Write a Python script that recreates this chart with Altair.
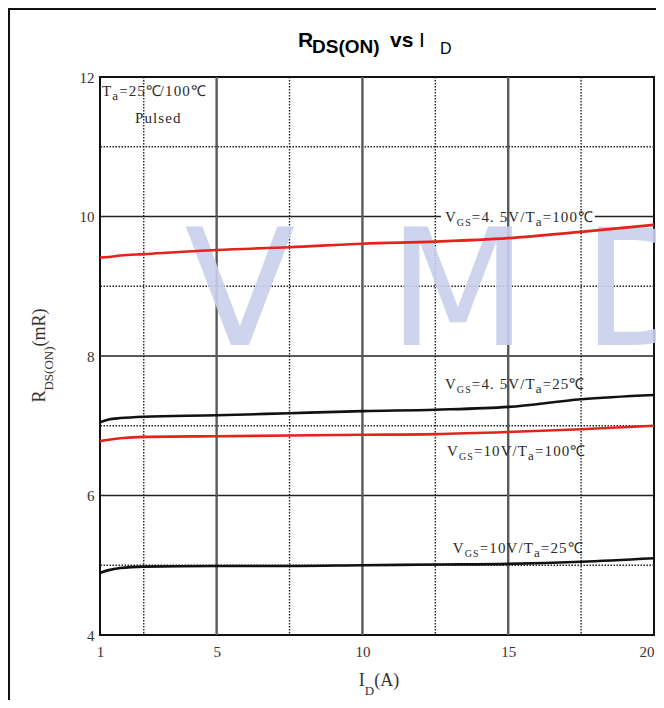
import altair as alt
import pandas as pd

# ---------------- data ----------------
id_a = [1, 1.3, 1.7, 2.5, 5, 7.5, 10, 12.5, 15, 17.5, 20]
r_45v_100c = [9.41, 9.42, 9.44, 9.46, 9.52, 9.56, 9.61, 9.64, 9.69, 9.78, 9.88]
r_45v_25c = [7.05, 7.09, 7.11, 7.13, 7.15, 7.18, 7.21, 7.23, 7.27, 7.38, 7.44]
r_10v_100c = [6.78, 6.80, 6.82, 6.84, 6.85, 6.86, 6.87, 6.88, 6.91, 6.95, 7.00]
r_10v_25c = [4.89, 4.93, 4.96, 4.98, 4.99, 4.99, 5.00, 5.01, 5.02, 5.05, 5.10]

series_names = ["4.5V/100C", "4.5V/25C", "10V/100C", "10V/25C"]
series_values = [r_45v_100c, r_45v_25c, r_10v_100c, r_10v_25c]
series_colors = ["#e3231c", "#111111", "#e3231c", "#111111"]

x_tick_values = [1, 5, 10, 15, 20]
y_tick_values = [4, 6, 8, 10, 12]
x_major = [5, 10, 15]
x_minor = [2.5, 7.5, 12.5, 17.5]
y_major = [6, 8, 10]
y_minor = [5, 7, 9, 11]

# annotation labels: segments (text, kind) ; anchor (x start, y centre) in data units
labels = [
    ([("V", "m"), ("GS", "sub1"), ("=4. 5V/T", "m"), ("a", "sub2"), ("=100℃", "m")], 12.83, 10.0),
    ([("V", "m"), ("GS", "sub1"), ("=4. 5V/T", "m"), ("a", "sub2"), ("=25℃", "m")], 12.83, 7.6),
    ([("V", "m"), ("GS", "sub1"), ("=10V/T", "m"), ("a", "sub2"), ("=100℃", "m")], 12.9, 6.64),
    ([("V", "m"), ("GS", "sub1"), ("=10V/T", "m"), ("a", "sub2"), ("=25℃", "m")], 13.1, 5.25),
    ([("T", "m"), ("a", "sub2"), ("=25℃/100℃", "m")], 1.07, 11.8),
    ([("Pulsed", "m")], 2.2, 11.41),
]

# ---------------- layout helpers ----------------
W, H = 554, 558
X_DOM, Y_DOM = [1, 20], [4, 12]
PXX = W / (X_DOM[1] - X_DOM[0])
PXY = H / (Y_DOM[1] - Y_DOM[0])

TW = {"V": .722, "G": .722, "S": .556, "=": .564, "4": .5, ".": .25, " ": .25, "5": .5,
      "/": .278, "T": .611, "a": .444, "1": .5, "0": .5, "2": .5, "℃": .85, "P": .556,
      "u": .5, "l": .278, "s": .389, "e": .444, "d": .5, "D": .722, "(": .333, ")": .333,
      "O": .722, "N": .722, "m": .778, "R": .667, "A": .722, "I": .333, "\u00a0": .25}
KIND = {"m": (15, 0), "sub1": (10, 4), "sub2": (13, 4)}
TRACK = 1.1  # extra spacing between characters in the annotations


def text_width(s, size):
    return sum(TW.get(c, 0.5) for c in s) * size


rows = []
extents = []
for segs, x0, yc in labels:
    cum = 0.0
    ybase = yc - 5 / PXY
    for txt, kind in segs:
        size, drop = KIND[kind]
        for ch in txt:
            rows.append({"x": x0 + cum / PXX, "y": ybase - drop / PXY, "t": ch, "size": size})
            cum += text_width(ch, size) + TRACK
    extents.append((x0, x0 + cum / PXX, yc))
label_df = pd.DataFrame(rows)

xs = alt.Scale(domain=X_DOM, nice=False, zero=False)
ys = alt.Scale(domain=Y_DOM, nice=False, zero=False)
x_axis = alt.Axis(values=x_tick_values, title=None, grid=False, ticks=False, domain=False,
                  labelFont="Liberation Serif", labelFontSize=15, labelColor="#333",
                  labelPadding=9, labelFlush=False,
                  labelAlign={"condition": {"test": "datum.value == 20", "value": "right"},
                              "value": "center"})
y_axis = alt.Axis(values=y_tick_values, title=None, grid=False, ticks=False, domain=False,
                  labelFont="Liberation Serif", labelFontSize=15, labelColor="#333",
                  labelPadding=6, labelFlush=False)


def X(f="x"):
    return alt.X(f"{f}:Q", scale=xs, axis=x_axis)


def Y(f="y"):
    return alt.Y(f"{f}:Q", scale=ys, axis=y_axis)


# grid
h_major = alt.Chart(pd.DataFrame({"y": y_major})).mark_rule(color="#222", strokeWidth=1.6).encode(y=Y())
h_minor = alt.Chart(pd.DataFrame({"y": y_minor})).mark_rule(
    color="#222", strokeWidth=1.4, strokeDash=[1.5, 1.5]).encode(y=Y())
v_major = alt.Chart(pd.DataFrame({"x": x_major})).mark_rule(color="#5a5a5a", strokeWidth=2.4).encode(x=X())
v_minor = alt.Chart(pd.DataFrame({"x": x_minor})).mark_rule(
    color="#222", strokeWidth=1.4, strokeDash=[1.5, 1.5]).encode(x=X())

# white gap behind the first label on the y=10 grid line
ex0, ex1, eyc = extents[0]
gap_df = pd.DataFrame({"x": [ex0 - 4 / PXX], "x2": [ex1 + 3 / PXX],
                       "y": [eyc - 6 / PXY], "y2": [eyc + 6 / PXY]})
gap = alt.Chart(gap_df).mark_rect(color="white").encode(x=X(), x2="x2", y=Y(), y2="y2")

# watermark
wm_letters = [("V", 140, "center"), ("M", 358, "center"), ("D", 482, "left")]
watermark = alt.layer(*[
    alt.Chart(pd.DataFrame({"t": [ch]})).mark_text(
        font="DejaVu Sans", fontWeight="normal", fontSize=162, color="#c9d0ec",
        align=al, baseline="alphabetic", opacity=0.9
    ).encode(text="t:N", x=alt.value(px), y=alt.value(268))
    for ch, px, al in wm_letters
])

# series lines
line_rows = []
for name, vals in zip(series_names, series_values):
    for xv, yv in zip(id_a, vals):
        line_rows.append({"series": name, "x": xv, "y": yv})
lines = alt.Chart(pd.DataFrame(line_rows)).mark_line(strokeWidth=2.6, interpolate="monotone").encode(
    x=X(), y=Y(),
    color=alt.Color("series:N", scale=alt.Scale(domain=series_names, range=series_colors), legend=None),
    detail="series:N",
)

# annotations
ann = alt.Chart(label_df).mark_text(
    align="left", baseline="alphabetic", font="Liberation Serif", color="#2a2a2a"
).encode(x=X(), y=Y(), text="t:N", size=alt.Size("size:Q", scale=None))


def piece(txt, px, py, size, weight="normal", font="Liberation Serif", angle=0, color="#222"):
    kw = dict(font=font, fontSize=size, fontWeight=weight, color=color,
              align="left", baseline="alphabetic")
    if angle:
        kw["angle"] = angle
    return alt.Chart(pd.DataFrame({"t": [txt]})).mark_text(**kw).encode(
        text="t:N", x=alt.value(px), y=alt.value(py))


# chart title  R_DS(ON) vs I_D
title_parts = [
    piece("R", 198, -30, 21, "bold", "Liberation Sans", color="#000"),
    piece("DS(ON)", 212, -24, 19, "bold", "Liberation Sans", color="#000"),
    piece("vs", 290, -30, 21, "bold", "Liberation Sans", color="#000"),
    piece("I", 319, -30, 21, "normal", "Liberation Sans", color="#000"),
    piece("D", 340, -23, 16, "normal", "Liberation Sans", color="#000"),
]

# y axis title (rotated)  R_DS(ON) (mR)
yt_segs = [("R", 18, 0), ("DS(ON)", 13, 8), ("\u00a0\u00a0(mR)", 18, 0)]
yt_total = sum(text_width(s, sz) for s, sz, _ in yt_segs)
cum = 0.0
ytitle_parts = []
for s, sz, drop in yt_segs:
    ytitle_parts.append(piece(s, -55 + drop, 274 + yt_total / 2 - cum, sz, angle=270, color="#333"))
    cum += text_width(s, sz)

# x axis title  I_D(A)
xt_segs = [("I", 18, 0), ("D", 13, 9), ("(A)", 18, 0)]
xt_total = sum(text_width(s, sz) for s, sz, _ in xt_segs)
cum = 0.0
xtitle_parts = []
for s, sz, drop in xt_segs:
    xtitle_parts.append(piece(s, 279 - xt_total / 2 + cum, 609 + drop, sz, color="#333"))
    cum += text_width(s, sz)

# page frame lines
frame_top = alt.Chart(pd.DataFrame({"a": [0]})).mark_rule(color="#111", strokeWidth=2).encode(
    x=alt.value(-92), x2=alt.value(560), y=alt.value(-68))
frame_left = alt.Chart(pd.DataFrame({"a": [0]})).mark_rule(color="#111", strokeWidth=2).encode(
    x=alt.value(-91), y=alt.value(-68), y2=alt.value(623))

chart = alt.layer(
    h_minor, h_major, gap, v_minor, v_major, watermark, lines, ann,
    *title_parts, *ytitle_parts, *xtitle_parts, frame_top, frame_left,
).properties(
    width=W, height=H,
    autosize=alt.AutoSizeParams(type="none"),
    padding={"left": 92, "top": 69, "right": 2, "bottom": 65},
    background="white",
).configure_view(stroke="#111", strokeWidth=2)

chart.save("out.html", embed_options={"renderer": "svg", "actions": False})
